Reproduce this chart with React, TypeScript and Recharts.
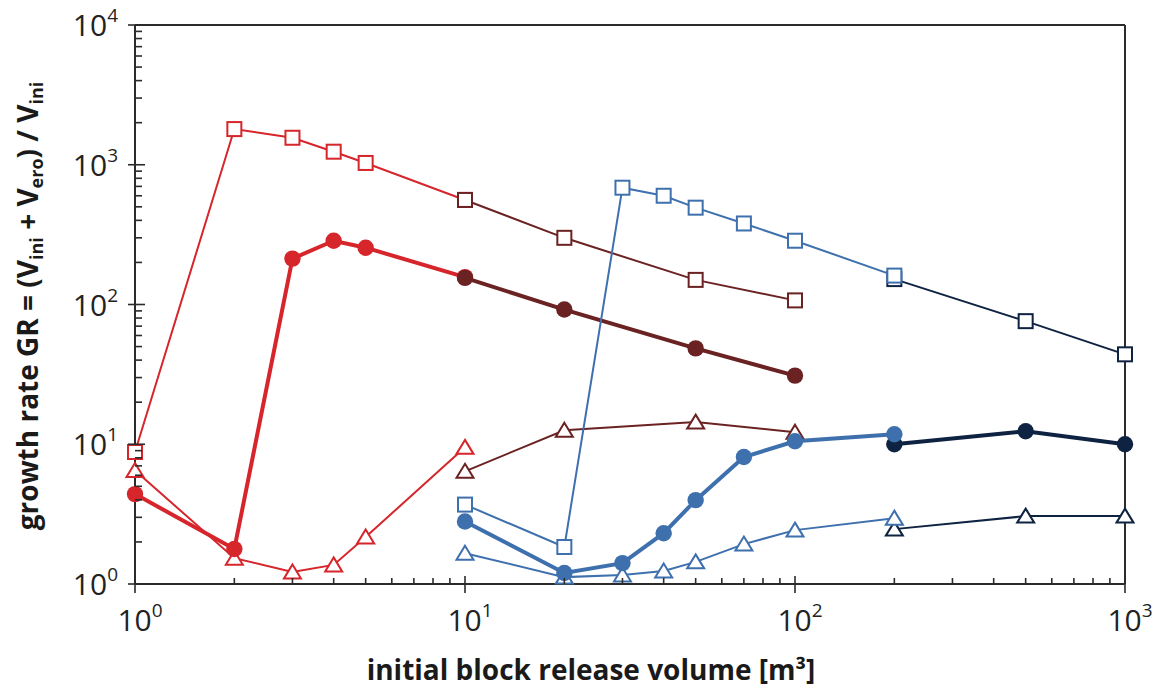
import React from 'react';
import { ScatterChart, Scatter, XAxis, YAxis } from 'recharts';

// ---------- tick values ----------
const xTicks = [1, 2, 3, 4, 5, 6, 7, 8, 9, 10, 20, 30, 40, 50, 60, 70, 80, 90, 100, 200, 300, 400, 500, 600, 700, 800, 900, 1000];
const yTicks = [1, 2, 3, 4, 5, 6, 7, 8, 9, 10, 20, 30, 40, 50, 60, 70, 80, 90, 100, 200, 300, 400, 500, 600, 700, 800, 900, 1000, 2000, 3000, 4000, 5000, 6000, 7000, 8000, 9000, 10000];
const decadeLabels: Record<number, string> = { 1: '0', 10: '1', 100: '2', 1000: '3', 10000: '4' };

// ---------- data ----------
const redX = [1, 2, 3, 4, 5, 10];
const redSquares = [8.8, 1800, 1560, 1240, 1030, 560];
const redCircles = [4.4, 1.78, 213, 286, 255, 157];
const redTriangles = [6.5, 1.53, 1.22, 1.37, 2.17, 9.5];

const darkRedX = [10, 20, 50, 100];
const darkRedSquares = [560, 300, 150, 107];
const darkRedCircles = [155, 92, 48.5, 31];
const darkRedTriangles = [6.4, 12.6, 14.4, 12.2];

const blueX = [10, 20, 30, 40, 50, 70, 100, 200];
const blueSquares = [3.7, 1.84, 685, 600, 493, 380, 286, 161];
const blueCircles = [2.8, 1.2, 1.41, 2.31, 3.98, 8.1, 10.5, 11.8];
const blueTriangles = [1.66, 1.12, 1.16, 1.24, 1.44, 1.93, 2.43, 2.96];

const navyX = [200, 500, 1000];
const navySquares = [152, 76, 44];
const navyCircles = [10, 12.4, 10];
const navyTriangles = [2.47, 3.06, 3.06];

const RED = '#d6252b';
const DARKRED = '#6b2222';
const BLUE = '#3f70ae';
const NAVY = '#0e2241';
const AXIS = '#2b2b2b';
const FONT = "'Open Sans', 'Noto Sans', sans-serif";

const zip = (xs: number[], ys: number[]) => xs.map((x, i) => ({ x, y: ys[i] }));

type Kind = 'square' | 'circle' | 'triangle';

const makeShape = (kind: Kind, color: string) => (props: any) => {
  const { cx, cy } = props;
  if (cx == null || cy == null) return <g />;
  if (kind === 'square') {
    return <rect x={cx - 7} y={cy - 7} width={14} height={14} fill="#fff" stroke={color} strokeWidth={2} />;
  }
  if (kind === 'circle') {
    return <circle cx={cx} cy={cy} r={8.2} fill={color} />;
  }
  return (
    <polygon
      points={`${cx},${cy - 7.5} ${cx + 8.5},${cy + 6.5} ${cx - 8.5},${cy + 6.5}`}
      fill="#fff"
      stroke={color}
      strokeWidth={2}
      strokeLinejoin="miter"
    />
  );
};

const series: { key: string; xs: number[]; ys: number[]; kind: Kind; color: string; width: number }[] = [
  { key: 'rs', xs: redX, ys: redSquares, kind: 'square', color: RED, width: 2 },
  { key: 'rt', xs: redX, ys: redTriangles, kind: 'triangle', color: RED, width: 2 },
  { key: 'rc', xs: redX, ys: redCircles, kind: 'circle', color: RED, width: 4 },
  { key: 'ds', xs: darkRedX, ys: darkRedSquares, kind: 'square', color: DARKRED, width: 2 },
  { key: 'dt', xs: darkRedX, ys: darkRedTriangles, kind: 'triangle', color: DARKRED, width: 2 },
  { key: 'dc', xs: darkRedX, ys: darkRedCircles, kind: 'circle', color: DARKRED, width: 4 },
  { key: 'nc', xs: navyX, ys: navyCircles, kind: 'circle', color: NAVY, width: 4 },
  { key: 'nt', xs: navyX, ys: navyTriangles, kind: 'triangle', color: NAVY, width: 2 },
  { key: 'ns', xs: navyX, ys: navySquares, kind: 'square', color: NAVY, width: 2 },
  { key: 'bt', xs: blueX, ys: blueTriangles, kind: 'triangle', color: BLUE, width: 2 },
  { key: 'bc', xs: blueX, ys: blueCircles, kind: 'circle', color: BLUE, width: 4 },
  { key: 'bs', xs: blueX, ys: blueSquares, kind: 'square', color: BLUE, width: 2 },
];

const isMajor = (v: number) => decadeLabels[v] !== undefined;

const BottomTick = (props: any) => {
  const { x, y, payload } = props;
  const v = payload.value;
  const major = isMajor(v);
  return (
    <g>
      <line x1={x} x2={x} y1={y - (major ? 8 : 6)} y2={y + (major ? 9 : 0)} stroke={AXIS} strokeWidth={1.6} />
      {major && (
        <text x={x + 5} y={y + 47} textAnchor="middle" fontFamily={FONT} fontSize={30} fill="#222">
          10
          <tspan dy={-14} fontSize={19}>{decadeLabels[v]}</tspan>
        </text>
      )}
    </g>
  );
};

const LeftTick = (props: any) => {
  const { x, y, payload } = props;
  const v = payload.value;
  const major = isMajor(v);
  return (
    <g>
      <line x1={x - (major ? 7 : 0)} x2={x + (major ? 10 : 7)} y1={y} y2={y} stroke={AXIS} strokeWidth={1.6} />
      {major && (
        <text x={x - 17} y={y + 11} textAnchor="end" fontFamily={FONT} fontSize={30} fill="#222">
          10
          <tspan dy={-14} fontSize={19}>{decadeLabels[v]}</tspan>
        </text>
      )}
    </g>
  );
};

const TopTick = (props: any) => {
  const { x, y } = props;
  return <line x1={x} x2={x} y1={y} y2={y + 7} stroke={AXIS} strokeWidth={1.6} />;
};

const RightTick = (props: any) => {
  const { x, y } = props;
  return <line x1={x - 7} x2={x} y1={y} y2={y} stroke={AXIS} strokeWidth={1.6} />;
};

export default function App() {
  return (
    <div style={{ position: 'absolute', left: 0, top: 0, width: 1161, height: 698, background: '#fff' }}>
      <ScatterChart width={1161} height={698} margin={{ top: 0, right: 0, bottom: 0, left: 0 }}>
        <XAxis
          xAxisId="b"
          dataKey="x"
          type="number"
          scale="log"
          domain={[1, 1000]}
          ticks={xTicks}
          interval={0}
          height={114}
          tickSize={0}
          tickMargin={0}
          tick={<BottomTick />}
          axisLine={{ stroke: AXIS, strokeWidth: 2 }}
          tickLine={false}
        />
        <XAxis
          xAxisId="t"
          orientation="top"
          dataKey="x"
          type="number"
          scale="log"
          domain={[1, 1000]}
          ticks={xTicks}
          interval={0}
          height={25}
          tickSize={0}
          tickMargin={0}
          tick={<TopTick />}
          axisLine={{ stroke: AXIS, strokeWidth: 2 }}
          tickLine={false}
        />
        <YAxis
          yAxisId="l"
          dataKey="y"
          type="number"
          scale="log"
          domain={[1, 10000]}
          ticks={yTicks}
          interval={0}
          width={135}
          tickSize={0}
          tickMargin={0}
          tick={<LeftTick />}
          axisLine={{ stroke: AXIS, strokeWidth: 2 }}
          tickLine={false}
        />
        <YAxis
          yAxisId="r"
          orientation="right"
          dataKey="y"
          type="number"
          scale="log"
          domain={[1, 10000]}
          ticks={yTicks}
          interval={0}
          width={36}
          tickSize={0}
          tickMargin={0}
          tick={<RightTick />}
          axisLine={{ stroke: AXIS, strokeWidth: 2 }}
          tickLine={false}
        />
        {series.map((s) => (
          <Scatter
            key={s.key}
            xAxisId="b"
            yAxisId="l"
            data={zip(s.xs, s.ys)}
            fill={s.color}
            line={{ stroke: s.color, strokeWidth: s.width }}
            shape={makeShape(s.kind, s.color)}
            isAnimationActive={false}
          />
        ))}
        <text
          x={591}
          y={680}
          textAnchor="middle"
          fontFamily={FONT}
          fontWeight={700}
          fontSize={28}
          fill="#1a1a1a"
        >
          initial block release volume [m³]
        </text>
        <text
          transform="translate(38, 306) rotate(-90)"
          x={0}
          y={0}
          textAnchor="middle"
          fontFamily={FONT}
          fontWeight={700}
          fontSize={28}
          fill="#1a1a1a"
        >
          growth rate GR = (V<tspan fontSize={18} dy={5}>ini</tspan>
          <tspan dy={-5}> + V</tspan>
          <tspan fontSize={18} dy={5}>ero</tspan>
          <tspan dy={-5}>) / V</tspan>
          <tspan fontSize={18} dy={5}>ini</tspan>
        </text>
      </ScatterChart>
    </div>
  );
}
